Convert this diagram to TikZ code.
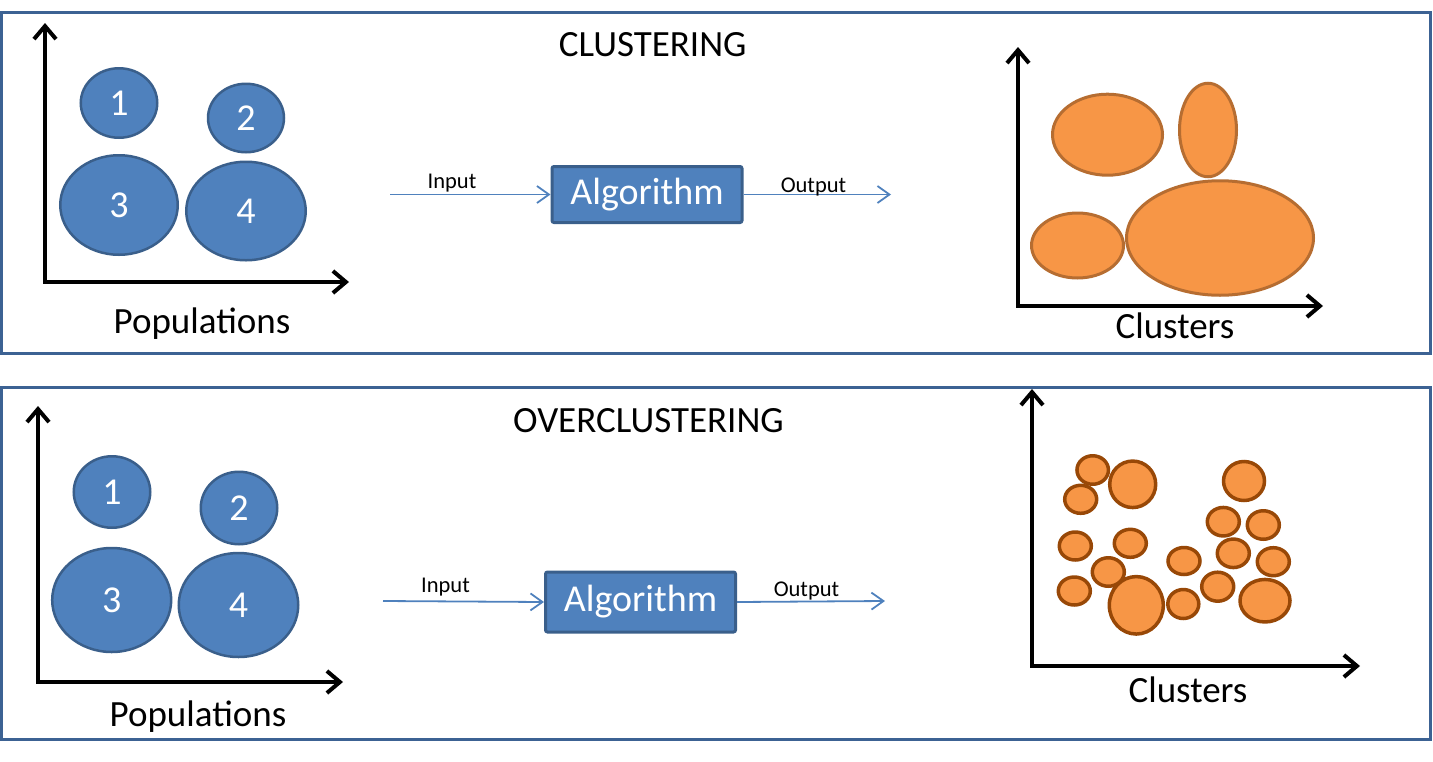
\documentclass[tikz,border=0pt]{standalone}
\usepackage{fontspec}
\setmainfont{Carlito}
\usetikzlibrary{arrows.meta,shapes.geometric}
\definecolor{frameblue}{HTML}{3C6293}
\definecolor{popfill}{HTML}{4F81BD}
\definecolor{popdraw}{HTML}{3A5F8B}
\definecolor{orfill}{HTML}{F79646}
\definecolor{ordraw}{HTML}{B66D31}
\definecolor{smdraw}{HTML}{984807}
\begin{document}
\begin{tikzpicture}[x=1pt,y=-1pt,
  panel/.style={draw=frameblue,line width=3pt},
  pop/.style={ellipse,draw=popdraw,fill=popfill,line width=2.5pt,inner sep=0pt,text=white,font=\fontsize{38}{45}\selectfont},
  bigcl/.style={ellipse,draw=ordraw,fill=orfill,line width=3pt,inner sep=0pt},
  smcl/.style={ellipse,draw=smdraw,fill=orfill,line width=3.5pt,inner sep=0pt},
  axes/.style={line width=4pt,line join=miter,{Straight Barb[length=13pt,width=22pt]}-{Straight Barb[length=13pt,width=22pt]}},
  algbox/.style={rectangle,rounded corners=2pt,draw=popdraw,fill=popfill,line width=3pt,text=white,minimum width=190pt,minimum height=56pt,inner sep=0pt,font=\fontsize{38}{45}\selectfont},
  flow/.style={draw=popfill,line width=1.8pt,-{Straight Barb[length=12pt,width=17pt]}},
  small/.style={font=\fontsize{22.5}{27}\selectfont,anchor=base},
  big/.style={font=\fontsize{37}{44}\selectfont,anchor=base}
]
\useasboundingbox (0,0) rectangle (1433,761);

% ---------- top panel ----------
\draw[panel] (1.7,12) rectangle (1430.5,353);
\node[big] (t1) at (652.7,56.7) {CLUSTERING};

\coordinate (yt1) at (45,23);
\coordinate (ot1) at (45,282);
\coordinate (xt1) at (349,282);
\draw[axes] (yt1) -- (ot1) -- (xt1);
\node[pop,minimum width=76.5pt,minimum height=69.5pt] (p1a) at (119,103) {1};
\node[pop,minimum width=76pt,minimum height=68.5pt] (p2a) at (246,118) {2};
\node[pop,minimum width=117.5pt,minimum height=99.5pt] (p3a) at (119,205) {3};
\node[pop,minimum width=119.5pt,minimum height=98.5pt] (p4a) at (246,211) {4};
\node[big] (popa) at (202,333) {Populations};

\node[algbox] (alga) at (647,194.5) {Algorithm};
\coordinate (ina) at (390,194.5);
\coordinate (outa) at (891,194.5);
\draw[flow] (ina) -- (alga.west);
\draw[flow] (alga.east) -- (outa);
\node[small] (inla) at (452,188) {Input};
\node[small] (outla) at (813.5,192.6) {Output};

\coordinate (yc1) at (1018,47);
\coordinate (oc1) at (1018,306);
\coordinate (xc1) at (1323,306);
\draw[axes] (yc1) -- (oc1) -- (xc1);
\node[bigcl,minimum width=110pt,minimum height=81pt] (ca) at (1107.5,134.7) {};
\node[bigcl,minimum width=57pt,minimum height=93.5pt] (cb) at (1208,130) {};
\node[bigcl,minimum width=92pt,minimum height=65pt] (cc) at (1077.5,245.5) {};
\node[bigcl,minimum width=187pt,minimum height=114.5pt] (cd) at (1220,238) {};
\node[big] (cla) at (1175,338) {Clusters};

% ---------- bottom panel ----------
\draw[panel] (1.7,387) rectangle (1430.5,739.5);
\node[big] (t2) at (648.5,432) {OVERCLUSTERING};

\coordinate (yt2) at (38,406);
\coordinate (ot2) at (38,682);
\coordinate (xt2) at (343,682);
\draw[axes] (yt2) -- (ot2) -- (xt2);
\node[pop,minimum width=76.5pt,minimum height=71.5pt] (p1b) at (112,492) {1};
\node[pop,minimum width=76.5pt,minimum height=72.5pt] (p2b) at (239,508) {2};
\node[pop,minimum width=119pt,minimum height=104pt] (p3b) at (111.7,600) {3};
\node[pop,minimum width=119.5pt,minimum height=104pt] (p4b) at (238.5,605) {4};
\node[big] (popb) at (198,726) {Populations};

\node[algbox,minimum height=60pt] (algb) at (640.5,602) {Algorithm};
\coordinate (inb) at (383,601);
\coordinate (outb) at (885,601);
\draw[flow] (inb) -- (algb.west);
\draw[flow] (algb.east) -- (outb);
\node[small] (inlb) at (445.5,592) {Input};
\node[small] (outlb) at (806.5,596) {Output};

\coordinate (yc2) at (1032,389);
\coordinate (oc2) at (1032,666);
\coordinate (xc2) at (1360,666);
\draw[axes] (yc2) -- (oc2) -- (xc2);
\node[smcl,minimum width=31.5pt,minimum height=28.5pt] (s1) at (1092.7,470) {};
\node[smcl,minimum width=46pt,minimum height=46.5pt] (s2) at (1132.7,484.3) {};
\node[smcl,minimum width=32pt,minimum height=28pt] (s3) at (1080.7,499.3) {};
\node[smcl,minimum width=41pt,minimum height=39pt] (s4) at (1244,481) {};
\node[smcl,minimum width=32pt,minimum height=28.5pt] (s5) at (1223.3,521.7) {};
\node[smcl,minimum width=32pt,minimum height=28.5pt] (s6) at (1263.3,525) {};
\node[smcl,minimum width=32pt,minimum height=28pt] (s7) at (1075.3,546) {};
\node[smcl,minimum width=32pt,minimum height=28pt] (s8) at (1130.3,543.3) {};
\node[smcl,minimum width=32pt,minimum height=28.5pt] (s9) at (1233.3,553.3) {};
\node[smcl,minimum width=32pt,minimum height=27pt] (s10) at (1184,561) {};
\node[smcl,minimum width=32pt,minimum height=28pt] (s11) at (1273.3,561.7) {};
\node[smcl,minimum width=32pt,minimum height=28.5pt] (s12) at (1108.3,572) {};
\node[smcl,minimum width=32pt,minimum height=28pt] (s13) at (1074.3,591) {};
\node[smcl,minimum width=54pt,minimum height=57.5pt] (s14) at (1136.3,605.3) {};
\node[smcl,minimum width=31pt,minimum height=29pt] (s15) at (1183.3,604) {};
\node[smcl,minimum width=32pt,minimum height=29pt] (s16) at (1217.7,586.7) {};
\node[smcl,minimum width=50pt,minimum height=42.5pt] (s17) at (1265,600.7) {};
\node[big] (clb) at (1188,702) {Clusters};
\end{tikzpicture}
\end{document}
